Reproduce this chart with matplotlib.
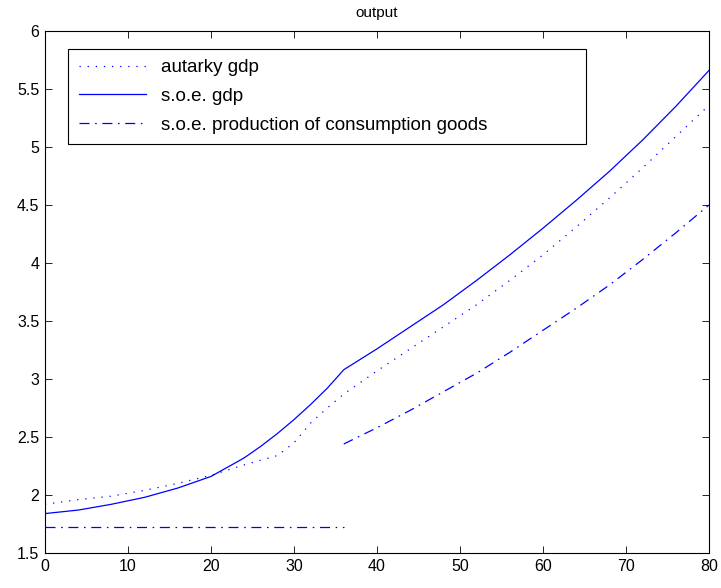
import matplotlib
matplotlib.use("Agg")
import matplotlib.pyplot as plt

# autarky gdp (dotted)
aut_x = [0, 4, 8, 12, 16, 20, 24, 28, 30, 32, 34, 36, 38, 40, 44, 48, 52, 56, 60, 64, 68, 72, 76, 80]
aut_y = [1.92, 1.96, 1.99, 2.04, 2.10, 2.17, 2.26, 2.34, 2.45, 2.62, 2.75, 2.87, 2.97, 3.07,
         3.26, 3.45, 3.64, 3.85, 4.07, 4.31, 4.56, 4.82, 5.09, 5.36]

# s.o.e. gdp (solid)
soe_x = [0, 4, 8, 12, 16, 20, 24, 26, 28, 30, 32, 34, 36, 40, 44, 48, 52, 56, 60, 64, 68, 72, 76, 80]
soe_y = [1.84, 1.87, 1.92, 1.98, 2.06, 2.16, 2.32, 2.42, 2.53, 2.65, 2.78, 2.92, 3.08, 3.26,
         3.45, 3.64, 3.85, 4.07, 4.30, 4.54, 4.79, 5.06, 5.35, 5.66]

# s.o.e. production of consumption goods (dash-dot), two pieces
cons1_x = [0, 36]
cons1_y = [1.72, 1.72]
cons2_x = [36, 40, 44, 48, 52, 56, 60, 64, 68, 72, 76, 80]
cons2_y = [2.44, 2.58, 2.73, 2.89, 3.05, 3.23, 3.42, 3.61, 3.81, 4.03, 4.26, 4.50]

plt.rcParams['font.family'] = ['Liberation Sans', 'DejaVu Sans']

fig = plt.figure(figsize=(7.21, 5.88), dpi=100)
ax = fig.add_axes([45 / 721, 35 / 588, 664 / 721, 522 / 588])

blue = '#0000ff'
lw = 0.9
dd = (8, 4.5, 1.3, 4.5)
ax.plot(aut_x, aut_y, color=blue, lw=lw, dashes=(1, 5.5), label="autarky gdp")
ax.plot(soe_x, soe_y, color=blue, lw=lw, label="s.o.e. gdp")
ax.plot(cons1_x, cons1_y, color=blue, lw=lw, dashes=dd,
        label="s.o.e. production of consumption goods")
ax.plot(cons2_x, cons2_y, color=blue, lw=lw, dashes=dd)

ax.set_xlim(0, 80)
ax.set_ylim(1.5, 6)
ax.set_xticks(range(0, 81, 10))
ax.set_yticks([1.5, 2, 2.5, 3, 3.5, 4, 4.5, 5, 5.5, 6])
ax.set_yticklabels(["1.5", "2", "2.5", "3", "3.5", "4", "4.5", "5", "5.5", "6"])
ax.tick_params(direction='in', length=5, width=0.6, top=True, right=True,
               labelsize=11.5, pad=4)
for s in ax.spines.values():
    s.set_linewidth(0.8)

ax.set_title("output", fontsize=11, pad=10)

leg = ax.legend(loc='upper left', bbox_to_anchor=(0.035, 0.966, 0.78, 0.0),
                mode='expand', borderaxespad=0, fancybox=False, framealpha=1,
                edgecolor='black', fontsize=13.5, handlelength=3.6,
                handletextpad=0.8, labelspacing=0.62, borderpad=0.55)
leg.get_frame().set_linewidth(0.8)

fig.savefig("out.png", dpi=100)
